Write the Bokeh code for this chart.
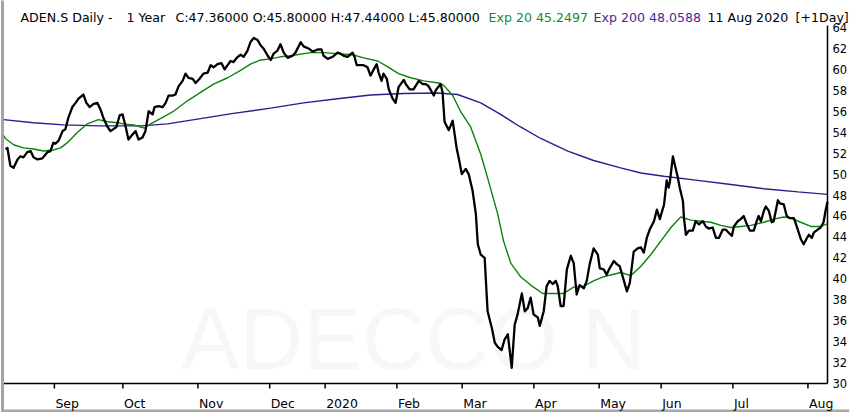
from bokeh.plotting import figure
from bokeh.models import Range1d, LinearAxis, FixedTicker, Label
from bokeh.embed import file_html
from bokeh.resources import INLINE

# ---- data (x = trading-day index since mid-Aug 2019) ----
price_day = [0.0, 0.6, 1.5, 2.5, 3.7, 4.6, 5.5, 6.7, 7.7, 8.6, 9.8, 11.3, 12.9, 13.8, 14.7, 15.3, 16.3, 17.5, 18.4, 19.3,
             20.5, 21.5, 22.4, 23.9, 24.8, 25.8, 27.0, 28.2, 29.1, 30.1, 31.3, 32.2, 33.1, 34.0, 35.0, 35.9, 36.8, 37.7, 39.0, 39.9,
             40.8, 42.0, 42.9, 43.9, 45.1, 45.7, 46.9, 48.2, 49.1, 50.0, 51.2, 52.1, 53.1, 54.3, 55.2, 56.1, 57.4, 58.3, 59.5, 60.7,
             62.0, 62.9, 63.8, 65.0, 66.2, 67.2, 68.1, 69.0, 69.9, 71.2, 72.1, 73.0, 74.2, 75.1, 76.1, 77.3, 78.2, 79.1, 80.4, 81.3,
             82.2, 83.4, 84.3, 85.3, 86.5, 88.0, 88.9, 90.5, 91.4, 92.9, 94.2, 95.7, 96.9, 97.5, 98.8, 100.3, 101.8, 102.7, 103.7, 104.9,
             106.4, 107.0, 107.7, 108.9, 109.8, 111.0, 111.9, 112.9, 113.8, 114.4, 115.3, 115.9, 116.9, 117.5, 118.7, 119.6, 120.5, 122.1, 122.7, 123.9,
             125.1, 126.7, 127.9, 128.8, 129.7, 131.3, 131.9, 133.4, 134.0, 134.6, 135.9, 137.1, 138.3, 138.9, 139.9, 141.1, 142.0, 143.2, 144.2, 144.8,
             145.7, 146.9, 147.8, 149.1, 150.0, 150.9, 152.1, 153.0, 154.0, 155.2, 156.1, 157.0, 158.3, 159.2, 160.1, 161.0, 161.9, 163.2, 163.8, 165.0,
             165.9, 166.8, 167.8, 168.7, 169.3, 170.2, 171.1, 172.1, 173.3, 174.2, 175.1, 176.0, 177.3, 178.2, 179.1, 180.3, 181.6, 182.2, 183.4, 184.3,
             185.2, 186.5, 187.4, 188.3, 189.6, 190.5, 191.4, 192.6, 193.8, 194.8, 195.7, 196.6, 197.5, 198.8, 199.7, 200.6, 201.9, 202.7, 203.3, 203.7,
             204.6, 205.2, 206.1, 206.7, 207.7, 208.0, 208.6, 209.5, 210.7, 211.6, 212.6, 213.8, 214.7, 215.6, 216.8, 217.8, 218.7, 219.9, 220.8, 221.7,
             222.7, 223.3, 224.5, 225.4, 226.3, 227.3, 228.2, 229.4, 230.3, 230.9, 231.6, 232.5, 233.1, 234.0, 234.9, 235.5, 236.8, 237.4, 238.6, 239.5,
             240.4, 241.7, 242.9, 243.8, 244.7, 245.7, 246.3, 247.2, 247.8, 249.0, 249.9, 250.8, 251.4, 252.0]
price_close = [52.4, 52.5, 50.8, 50.6, 51.4, 51.7, 51.6, 52.1, 52.2, 51.6, 51.4, 51.5, 52.1, 52.2, 53.0, 52.9, 53.2, 54.1, 54.3, 55.4,
               56.4, 56.8, 57.2, 57.6, 56.8, 56.4, 56.7, 56.8, 56.2, 55.3, 54.5, 54.1, 54.3, 54.5, 55.6, 55.7, 54.6, 53.3, 53.8, 54.1,
               53.3, 53.5, 54.1, 56.0, 55.7, 56.4, 56.5, 56.4, 56.8, 57.5, 57.5, 57.6, 58.4, 58.9, 59.6, 59.2, 59.1, 58.7, 59.1, 59.6,
               59.7, 60.4, 60.2, 60.5, 60.6, 60.0, 60.4, 60.8, 60.7, 61.2, 61.4, 61.2, 61.8, 62.6, 63.0, 62.8, 62.3, 62.0, 61.3, 60.9,
               61.5, 61.8, 62.4, 61.6, 61.1, 61.3, 61.6, 62.6, 62.2, 62.0, 61.7, 61.9, 61.9, 61.3, 61.0, 61.2, 61.6, 61.5, 61.3, 61.2,
               61.6, 61.2, 60.4, 60.4, 60.4, 60.2, 59.4, 60.0, 60.5, 59.7, 58.9, 59.6, 59.1, 58.1, 57.2, 56.8, 58.3, 59.0, 58.6, 58.1,
               58.1, 58.9, 58.6, 58.6, 58.4, 57.5, 58.0, 58.6, 57.8, 55.0, 54.2, 55.1, 52.5, 51.6, 50.0, 50.5, 50.0, 48.4, 46.2, 43.3,
               42.3, 42.0, 36.9, 35.3, 33.9, 33.5, 33.2, 34.2, 34.7, 31.5, 35.6, 36.6, 38.6, 36.9, 37.2, 38.2, 36.6, 36.3, 35.5, 36.9,
               39.3, 39.8, 39.5, 39.8, 39.3, 37.4, 37.4, 40.9, 42.2, 41.5, 38.5, 39.4, 39.1, 39.8, 41.4, 42.9, 42.3, 41.0, 40.9, 40.4,
               41.0, 41.7, 41.4, 41.2, 39.8, 38.8, 39.6, 42.6, 42.9, 43.0, 42.5, 43.9, 44.7, 45.5, 46.6, 45.7, 47.1, 49.4, 48.7, 49.3,
               51.7, 50.9, 49.7, 48.7, 47.4, 45.8, 44.2, 44.6, 44.6, 45.5, 45.2, 45.5, 45.0, 44.8, 44.9, 43.9, 43.9, 44.7, 44.7, 44.4,
               44.1, 45.0, 45.5, 45.7, 46.0, 45.2, 44.6, 44.6, 45.5, 46.0, 45.5, 46.5, 46.9, 46.5, 45.4, 45.5, 47.5, 47.2, 47.1, 46.0,
               45.8, 45.8, 44.7, 43.8, 43.3, 43.9, 44.2, 43.9, 44.4, 44.7, 44.9, 45.4, 46.5, 47.36]

ema20_day = [-0.6, 0.0, 2.5, 5.5, 8.6, 11.7, 14.7, 16.9, 19.0, 22.1, 25.1, 28.5, 31.3, 34.4, 36.2, 39.3, 41.4, 42.6, 44.5, 47.5,
             51.5, 55.8, 59.8, 63.8, 68.1, 72.1, 75.1, 78.2, 81.3, 84.3, 87.4, 93.5, 97.5, 101.8, 106.4, 109.8, 114.1, 117.5, 120.5, 124.2,
             128.2, 132.8, 134.3, 137.1, 139.5, 142.6, 145.7, 148.1, 150.9, 152.7, 154.9, 157.9, 161.0, 164.7, 167.2, 171.1, 174.2, 177.3, 180.3, 183.4,
             188.6, 191.7, 194.8, 197.8, 200.9, 204.0, 207.0, 210.1, 213.2, 216.2, 219.3, 222.4, 225.4, 228.5, 232.5, 235.5, 238.6, 240.8, 243.8, 246.9,
             249.9, 252.0]
ema20_val = [53.7, 53.4, 52.8, 52.5, 52.4, 52.2, 52.3, 52.5, 53.0, 54.0, 54.8, 55.2, 55.0, 54.9, 54.8, 54.7, 54.5, 54.4, 54.8, 55.3,
             56.0, 57.0, 57.8, 58.6, 59.2, 59.9, 60.5, 60.9, 61.0, 61.2, 61.3, 61.6, 61.6, 61.5, 61.4, 61.1, 60.8, 60.2, 59.6, 59.2,
             58.9, 58.7, 58.5, 57.5, 56.0, 54.5, 51.9, 49.3, 46.2, 43.6, 41.5, 40.2, 39.4, 38.6, 38.6, 38.6, 39.2, 39.3, 39.8, 40.2,
             40.6, 40.3, 41.2, 42.3, 43.6, 44.9, 45.9, 45.6, 45.5, 45.4, 45.1, 44.9, 45.0, 45.1, 45.4, 45.7, 45.9, 45.8, 45.4, 45.0,
             45.0, 45.25]

ema200_day = [-0.6, 8.6, 17.8, 29.1, 41.4, 49.7, 59.8, 69.9, 81.3, 91.4, 101.8, 111.9, 122.1, 132.5, 138.6, 145.7, 151.8, 157.9, 164.1, 172.4,
              180.3, 188.6, 194.8, 201.8, 212.2, 222.4, 232.5, 242.9, 252.0]
ema200_val = [55.2, 54.9, 54.7, 54.6, 54.6, 54.8, 55.3, 55.8, 56.3, 56.8, 57.2, 57.55, 57.7, 57.75, 57.6, 56.8, 55.7, 54.5, 53.4, 52.2,
              51.3, 50.6, 50.1, 49.8, 49.4, 49.0, 48.6, 48.3, 48.06]

month_day = [15, 36, 59, 81, 98, 120, 140, 162, 182, 201, 223, 246]
month_labels = ["Sep", "Oct", "Nov", "Dec", "2020", "Feb", "Mar", "Apr", "May", "Jun", "Jul", "Aug"]
y_ticks = list(range(30, 65, 2))

symbol_text = "ADEN.S Daily -"
span_text = "1 Year"
ohlc_text = "C:47.36000 O:45.80000 H:47.44000 L:45.80000"
ema20_text = "Exp 20 45.2497"
ema200_text = "Exp 200 48.0588"
date_text = "11 Aug 2020"
period_text = "[+1Day]"
watermark = "ADECCO N"

FONT = "DejaVu Sans"
W, H = 850, 412
X0, X1 = -0.6, 252.0            # data extent on the time scale
Y_LO, Y_HI = 30, 64.2           # price-scale extent (axis bounds)
PXD = 3.2621                    # pixels per trading day
PX = 10.4706                    # pixels per price unit
FRAME_L, FRAME_R = 2, 849       # frame edges in canvas px
PLOT_L, PLOT_R = 3, 827         # where X0 / X1 sit
Y64_PX, Y30_PX = 27, 383

xr = Range1d(X0 - (PLOT_L - FRAME_L) / PXD, X1 + (FRAME_R - PLOT_R) / PXD)
yr = Range1d(30 - (H - Y30_PX) / PX, 64 + Y64_PX / PX)
p = figure(width=W, height=H, output_backend="svg", toolbar_location=None,
           x_range=xr, y_range=yr,
           x_axis_location=None, y_axis_location=None,
           min_border_left=FRAME_L, min_border_right=W - FRAME_R, min_border_top=0, min_border_bottom=0,
           background_fill_color="white", border_fill_color="white")
p.outline_line_color = None
p.xgrid.visible = False
p.ygrid.visible = False

# gray window frame (left and bottom)
la = LinearAxis(ticker=FixedTicker(ticks=[]), major_label_text_font_size="1px",
                major_tick_out=0, major_tick_in=0, minor_tick_out=0, minor_tick_in=0,
                major_label_standoff=0, axis_line_color="#a4a4a4", axis_line_width=3)
p.add_layout(la, "left")
p.segment(x0=[xr.start], y0=[yr.start + 1.5 / PX], x1=[xr.end], y1=[yr.start + 1.5 / PX],
          line_color="#a8a8a8", line_width=3)

# right price axis line (labels drawn as annotations beside it)
ra = LinearAxis(ticker=FixedTicker(ticks=y_ticks), fixed_location=X1, bounds=(Y_LO, Y_HI),
                major_label_text_font_size="1px", major_label_text_alpha=0, major_label_standoff=0,
                major_tick_out=0, major_tick_in=0, minor_tick_out=0, minor_tick_in=0,
                axis_line_color="black", axis_line_width=1.5)
p.add_layout(ra, "right")
for t in y_ticks:
    p.add_layout(Label(x=X1, y=t, text=str(t), x_offset=5, text_align="left", text_baseline="middle",
                       text_font=FONT, text_font_size="11.5px", text_color="black"))

# watermark
p.add_layout(Label(x=125, y=34.3, text=watermark, text_align="center", text_baseline="alphabetic",
                   text_font="Liberation Sans", text_font_size="88px", text_color="#f7f7f7",
                   level="underlay"))

# time axis line and ticks at the 30 level
p.segment(x0=[X0], y0=[Y_LO], x1=[X1], y1=[Y_LO], line_color="black", line_width=1.5)
p.segment(x0=month_day, y0=[Y_LO] * len(month_day), x1=month_day,
          y1=[Y_LO - 5 / PX] * len(month_day), line_color="black", line_width=1.5)

# series
p.line(ema200_day, ema200_val, line_color="#2e1a8f", line_width=1.4)
p.line(ema20_day, ema20_val, line_color="#0d800d", line_width=1.4)
p.line(price_day, price_close, line_color="black", line_width=2.3, line_join="round")

# month labels (left aligned at their tick)
for d, name in zip(month_day, month_labels):
    p.add_layout(Label(x=d, y=Y_LO - 20 / PX, text=name, text_align="left", text_baseline="alphabetic",
                       x_offset=1, text_font=FONT, text_font_size="12.5px", text_color="black"))

# header line
hdr_y = 64 + 10 / PX
header = [(18, symbol_text, "black"), (124, span_text, "black"), (173, ohlc_text, "black"),
          (486, ema20_text, "#1f8a1f"), (591, ema200_text, "#4a2a92"),
          (705, date_text, "black"), (793, period_text, "black")]
for sx, txt, col in header:
    p.add_layout(Label(x=sx, x_units="screen", y=hdr_y, text=txt, text_align="left",
                       text_baseline="alphabetic", text_font=FONT, text_font_size="12.6px",
                       text_color=col))

open("out.html", "w").write(file_html(p, INLINE))
